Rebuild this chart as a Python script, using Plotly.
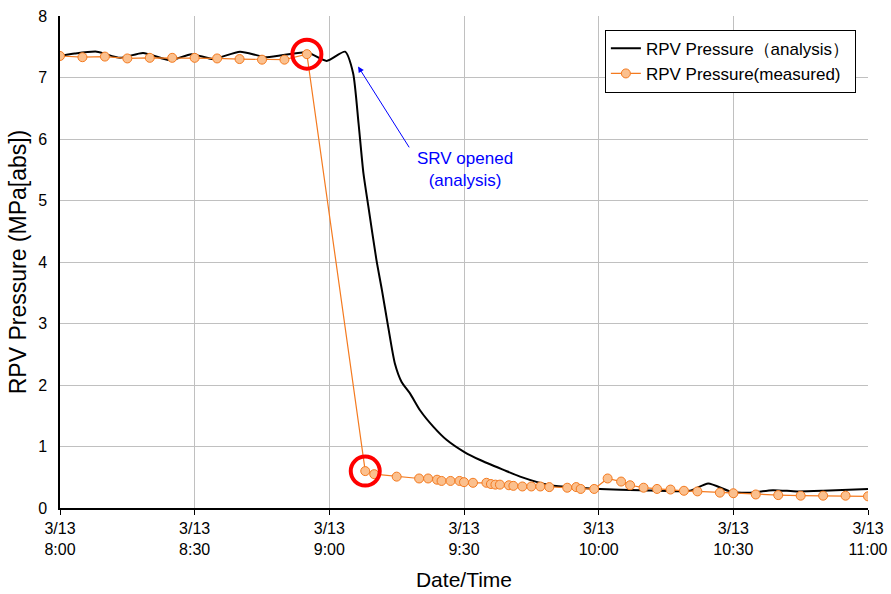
import pandas as pd
import plotly.graph_objects as go

BASE = "2011-03-13 08:00"

# Analysis curve: minutes after 8:00 and pressure (MPa abs)
analysis_min = [0, 3.3, 8.2, 13.4, 18.5, 24.5, 29.3, 34.1, 40.1, 46, 55, 59.4, 63.5,
                65.3, 66.5, 67.6, 68.7, 70.5, 71.7, 73.1, 74.6, 76.1, 78, 80.2, 83.2,
                86.1, 90.1, 93.6, 98.8, 102.5, 109.2, 115.8, 120.3, 129.2, 140.3,
                144.4, 149.3, 153.7, 158.8, 164.2, 170, 180]
analysis_val = [7.35, 7.39, 7.42, 7.32, 7.40, 7.28, 7.38, 7.30, 7.42, 7.33, 7.41, 7.27, 7.42,
                7.07, 6.26, 5.44, 4.90, 4.03, 3.55, 2.95, 2.35, 2.05, 1.86, 1.59, 1.32,
                1.11, 0.91, 0.78, 0.62, 0.51, 0.37, 0.33, 0.31, 0.29, 0.28,
                0.40, 0.27, 0.25, 0.29, 0.27, 0.28, 0.31]

# Measured values
measured_time = ["08:00", "08:05", "08:10", "08:15", "08:20", "08:25", "08:30", "08:35",
                 "08:40", "08:45", "08:50", "08:55",
                 "09:08", "09:10", "09:15", "09:20", "09:22", "09:24", "09:25", "09:27",
                 "09:29", "09:30", "09:32", "09:35", "09:36", "09:37", "09:38", "09:40",
                 "09:41", "09:43", "09:45", "09:47", "09:49", "09:53", "09:55", "09:56",
                 "09:59", "10:02", "10:05", "10:07", "10:10", "10:13", "10:16", "10:19",
                 "10:22", "10:27", "10:30", "10:35", "10:40", "10:45", "10:50", "10:55",
                 "11:00"]
measured_val = [7.35, 7.33, 7.34, 7.31, 7.32, 7.32, 7.32, 7.31, 7.30, 7.29, 7.29, 7.38,
                0.60, 0.55, 0.51, 0.48, 0.48, 0.46, 0.44, 0.44,
                0.44, 0.42, 0.41, 0.41, 0.39, 0.38, 0.38, 0.37,
                0.36, 0.35, 0.35, 0.35, 0.34, 0.33, 0.34, 0.31,
                0.31, 0.48, 0.43, 0.37, 0.33, 0.31, 0.30, 0.28,
                0.27, 0.25, 0.24, 0.22, 0.21, 0.20, 0.20, 0.20,
                0.19]

# Highlighted (circled) measured points
highlight_time = ["08:55", "09:08"]
highlight_val = [7.38, 0.60]

tick_time = ["08:00", "08:30", "09:00", "09:30", "10:00", "10:30", "11:00"]
tick_text = ["3/13<br>8:00", "3/13<br>8:30", "3/13<br>9:00", "3/13<br>9:30",
             "3/13<br>10:00", "3/13<br>10:30", "3/13<br>11:00"]

# Annotation: arrow tip / tail (minutes after 8:00, MPa) and text position
arrow_tip = (66.4, 7.18)
arrow_tail = (78.0, 5.84)
label_pos = (90.2, 5.50)

base = pd.Timestamp(BASE)
def tm(hhmm):
    return pd.Timestamp("2011-03-13 " + hhmm)
def mn(m):
    return base + pd.Timedelta(minutes=m)

ax_x = [mn(m) for m in analysis_min]
ms_x = [tm(t) for t in measured_time]
hl_x = [tm(t) for t in highlight_time]

FONT = "Liberation Sans, Arial, sans-serif"
ORANGE = "#F47A1F"
FILL = "#FBC08E"

fig = go.Figure()
fig.add_trace(go.Scatter(
    x=ax_x, y=analysis_val, mode="lines", name="RPV Pressure（analysis）",
    line=dict(color="black", width=2, shape="spline", smoothing=0.6)))
fig.add_trace(go.Scatter(
    x=ms_x, y=measured_val, mode="lines+markers", name="RPV Pressure(measured)",
    line=dict(color=ORANGE, width=1.2),
    marker=dict(size=9, color=FILL, line=dict(color=ORANGE, width=1))))
fig.add_trace(go.Scatter(
    x=hl_x, y=highlight_val, mode="markers", showlegend=False, hoverinfo="skip",
    marker=dict(symbol="circle-open", size=29, color="#FF0000", line=dict(width=4))))

fig.add_annotation(
    x=mn(arrow_tip[0]), y=arrow_tip[1], ax=mn(arrow_tail[0]), ay=arrow_tail[1],
    axref="x", ayref="y", xref="x", yref="y", text="", showarrow=True,
    arrowhead=2, arrowsize=1.2, arrowwidth=1, arrowcolor="#0000FF")
fig.add_annotation(
    x=mn(label_pos[0]), y=label_pos[1], xref="x", yref="y", showarrow=False,
    text="SRV opened<br>(analysis)", font=dict(family=FONT, size=17, color="#0000FF"),
    align="center")

fig.update_layout(
    width=891, height=594,
    margin=dict(l=60, r=23, t=16, b=86, autoexpand=False),
    paper_bgcolor="white", plot_bgcolor="white",
    font=dict(family=FONT, size=16, color="black"),
    legend=dict(x=0.985, y=0.972, xanchor="right", yanchor="top",
                bgcolor="white", bordercolor="black", borderwidth=1,
                font=dict(family=FONT, size=17), tracegroupgap=0, itemwidth=30),
    showlegend=True,
)
fig.update_xaxes(
    range=[tm("08:00"), tm("11:00")], tickvals=[tm(t) for t in tick_time], ticktext=tick_text,
    showgrid=True, gridcolor="#C0C0C0", gridwidth=1,
    showline=True, linecolor="black", linewidth=1.5,
    ticks="outside", ticklen=5, tickcolor="black",
    tickfont=dict(family=FONT, size=16), ticklabeloverflow="allow",
    title=dict(text="Date/Time", font=dict(family=FONT, size=21), standoff=16),
    zeroline=False, automargin=False)
fig.update_yaxes(
    range=[0, 8], dtick=1,
    showgrid=True, gridcolor="#C0C0C0", gridwidth=1,
    showline=True, linecolor="black", linewidth=1.5,
    ticks="outside", ticklen=8, tickcolor="rgba(0,0,0,0)",
    tickfont=dict(family=FONT, size=16), ticklabeloverflow="allow",
    title=dict(text="RPV Pressure (MPa[abs])", font=dict(family=FONT, size=23), standoff=5),
    zeroline=False, automargin=False)

fig.write_html("out.html", config={"displayModeBar": False},
               post_script="document.body.style.margin='0';document.body.style.overflow='hidden';")
